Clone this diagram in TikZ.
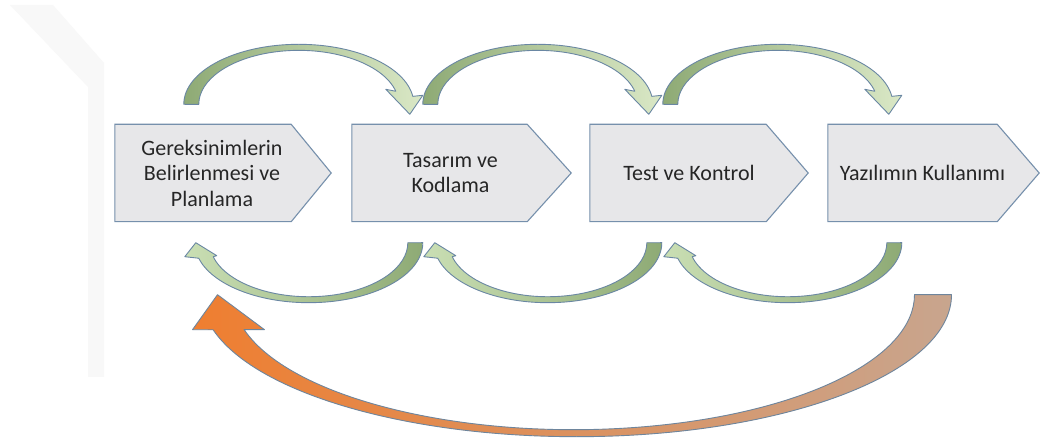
\documentclass[tikz,border=0pt]{standalone}
\usepackage{fontspec}
\setmainfont{Carlito}
\usetikzlibrary{calc}

\definecolor{boxfill}{HTML}{E7E7E9}
\definecolor{boxline}{HTML}{7690AC}
\definecolor{arrowline}{HTML}{6A87A3}
\definecolor{greendark}{HTML}{8EAA75}
\definecolor{greenmid}{HTML}{B6CE9A}
\definecolor{greenlight}{HTML}{DAE8C6}
\definecolor{greenpale}{HTML}{E8F0E0}
\definecolor{greenhead}{HTML}{CADFB4}
\definecolor{orangehead}{HTML}{EF7E30}
\definecolor{orangetail}{HTML}{C8A58E}
\definecolor{textcol}{HTML}{262626}
\definecolor{wmark}{HTML}{F8F8F8}

\tikzset{
  stagebox/.style={draw=none, inner sep=0pt, minimum width=#1, minimum height=97pt},
  stageshape/.style={draw=boxline, fill=boxfill, line width=1.1pt, line join=miter},
  stagetext/.style={align=center, text=textcol, font=\fontsize{22}{25.5}\selectfont},
  greenband/.style={draw=arrowline, line width=0.9pt, line join=round},
  % curved arrow over the top of two stages, origin at the arc centre
  pics/overarrow/.style={code={
    \path[greenband, left color=greendark, middle color=greenmid, right color=greenlight]
      (-115,0) arc[start angle=180, end angle=7.6, x radius=115, y radius=60]
      -- (124,9) -- (111,-10) -- (87,15) -- (97,13)
      arc[start angle=14, end angle=180, x radius=100, y radius=54] -- cycle;
  }},
  % curved arrow under two stages, pointing back, origin at the arc centre
  pics/underarrow/.style={code={
    \path[greenband, left color=greenhead, middle color=greenpale, right color=greendark]
      (114,0) arc[start angle=0, end angle=-165, x radius=114, y radius=60]
      -- (-124,-14) -- (-113,0) -- (-92,-13) -- (-95.6,-14)
      arc[start angle=-165, end angle=0, x radius=99, y radius=54] -- cycle;
  }},
  % long return arrow from the last stage to the first one
  pics/returnarrow/.style={code={
    \path[draw=arrowline!80!gray, line width=0.9pt, line join=round,
          left color=orangehead, right color=orangetail]
      (375,0) arc[start angle=0, end angle=-165.7, x radius=375, y radius=142]
      -- (-384,-35) -- (-359,0) -- (-312,-35) -- (-332.4,-34.9)
      arc[start angle=-165, end angle=0, x radius=341, y radius=135] -- cycle;
  }}
}

\newcommand{\stageoutline}[2]{%
  \draw[stageshape] (#1.north west) -- ([xshift=-#2]#1.north east) -- (#1.east)
    -- ([xshift=-#2]#1.south east) -- (#1.south west) -- cycle;}

\begin{document}
\begin{tikzpicture}[x=1pt, y=1pt]
  \useasboundingbox (0,0) rectangle (1040,444);
  \fill[white] (0,0) rectangle (1040,444);

  % faint background band
  \fill[wmark] (10,439) -- (53,439) -- (104,381) -- (104,67) -- (88,67) -- (88,357) -- cycle;

  % stage frames
  \node[stagebox=216pt] (b1) at (223,271) {};
  \node[stagebox=219pt] (b2) at (461.5,271) {};
  \node[stagebox=218pt] (b3) at (699,271) {};
  \node[stagebox=211pt] (b4) at (933.5,271) {};
  \stageoutline{b1}{40pt}
  \stageoutline{b2}{44pt}
  \stageoutline{b3}{42pt}
  \stageoutline{b4}{42pt}

  % stage labels
  \node[stagetext] (t1) at ([xshift=-11pt]b1.center) {Gereksinimlerin\\Belirlenmesi ve\\Planlama};
  \node[stagetext] (t2) at ([xshift=-11pt]b2.center) {Tasarım ve\\Kodlama};
  \node[stagetext] (t3) at ([xshift=-10pt]b3.center) {Test ve Kontrol};
  \node[stagetext] (t4) at ([xshift=-11pt]b4.center) {Yazılımın Kullanımı};

  % forward arrows above the stages
  \pic at ($(b1.north west)+(184,20)$) {overarrow};
  \pic at ($(b2.north west)+(186,20)$) {overarrow};
  \pic at ($(b3.north west)+(188,20)$) {overarrow};

  % feedback arrows below the stages
  \pic at ($(b1.south west)+(194,-21)$) {underarrow};
  \pic at ($(b2.south west)+(196,-21)$) {underarrow};
  \pic at ($(b3.south west)+(198,-21)$) {underarrow};

  % return arrow from the last stage back to the first
  \coordinate (ret) at ($(b1.south west)!0.5!(b4.south east)+(-0.5,-73)$);
  \pic at (ret) {returnarrow};
\end{tikzpicture}
\end{document}
